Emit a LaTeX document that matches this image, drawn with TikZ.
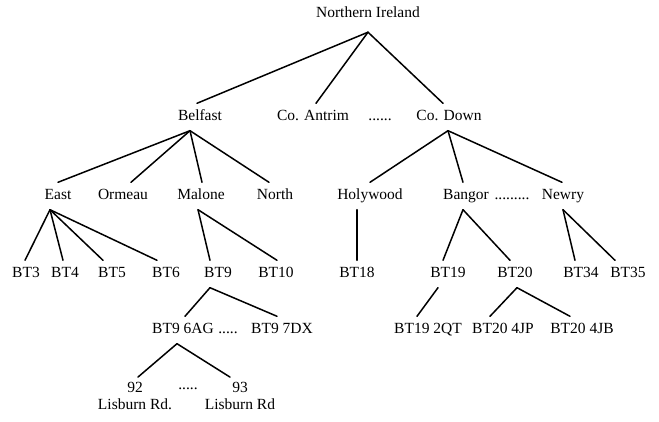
\documentclass[tikz,border=0pt]{standalone}
\usepackage{fontspec}
\setmainfont{Liberation Serif}
\usepackage{tikz}

\begin{document}
\begin{tikzpicture}[x=1pt,y=-1pt,
    place/.style={font=\fontsize{15.5}{17}\selectfont, black, inner sep=0pt,
        minimum height=27pt, text height=10.5pt, text depth=3.5pt},
    addr/.style={font=\fontsize{15.5}{17}\selectfont, black, inner sep=1pt,
        align=center},
    link/.style={black, line width=1.5pt, line cap=round}]
    \useasboundingbox (0,0) rectangle (659,422);

    % level 0 and 1
    \node[place] (ni) at (368,14) {Northern Ireland};
    \node[place] (belfast) at (200,117) {Belfast};
    \node[place] (antrim) at (313,117) {Co. Antrim};
    \node[place] (dotsa) at (380,117) {......};
    \node[place] (down) at (449,117) {Co. Down};

    % level 2
    \node[place] (east) at (58,196) {East};
    \node[place] (ormeau) at (123,196) {Ormeau};
    \node[place] (malone) at (201,196) {Malone};
    \node[place] (north) at (275,196) {North};
    \node[place] (holywood) at (370,196) {Holywood};
    \node[place] (bangor) at (466,196) {Bangor};
    \node[place] (dotsb) at (512,196) {.........};
    \node[place] (newry) at (563,196) {Newry};

    % level 3
    \node[place] (bt3) at (26,274) {BT3};
    \node[place] (bt4) at (65,274) {BT4};
    \node[place] (bt5) at (112,274) {BT5};
    \node[place] (bt6) at (166,274) {BT6};
    \node[place] (bt9) at (218,274) {BT9};
    \node[place] (bt10) at (276,274) {BT10};
    \node[place] (bt18) at (357,274) {BT18};
    \node[place] (bt19) at (448,274) {BT19};
    \node[place] (bt20) at (515,274) {BT20};
    \node[place] (bt34) at (581,274) {BT34};
    \node[place] (bt35) at (628,274) {BT35};

    % level 4 and 5
    \node[place] (bt9a) at (183,330) {BT9 6AG};
    \node[place] (dotsc) at (228,330) {.....};
    \node[place] (bt9b) at (282,330) {BT9 7DX};
    \node[place] (bt19a) at (428,330) {BT19 2QT};
    \node[place] (bt20a) at (503,330) {BT20 4JP};
    \node[place] (bt20b) at (582,330) {BT20 4JB};
    \node[addr] (r92) at (135,396) {92\\Lisburn Rd.};
    \node[place] (dotsd) at (188,386) {.....};
    \node[addr] (r93) at (240,396) {93\\Lisburn Rd};

    \draw[link] ([yshift=-4.5pt]ni.south) -- ([xshift=-3pt]belfast.north);
    \draw[link] ([yshift=-4.5pt]ni.south) -- ([xshift=3pt]antrim.north);
    \draw[link] ([yshift=-4.5pt]ni.south) -- ([xshift=-6pt]down.north);

    \draw[link] ([xshift=-10pt]belfast.south) -- (east.north);
    \draw[link] ([xshift=-10pt]belfast.south) -- ([xshift=8pt]ormeau.north);
    \draw[link] ([xshift=-10pt]belfast.south) -- ([xshift=1pt]malone.north);
    \draw[link] ([xshift=-10pt]belfast.south) -- ([xshift=-6pt]north.north);
    \draw[link] ([xshift=-1pt]down.south) -- (holywood.north);
    \draw[link] ([xshift=-1pt]down.south) -- ([xshift=-3pt]bangor.north);
    \draw[link] ([xshift=-1pt]down.south) -- ([xshift=-1pt]newry.north);

    \draw[link] ([xshift=-8pt]east.south) -- ([xshift=-1pt]bt3.north);
    \draw[link] ([xshift=-8pt]east.south) -- ([xshift=-2pt]bt4.north);
    \draw[link] ([xshift=-8pt]east.south) -- ([xshift=-9pt]bt5.north);
    \draw[link] ([xshift=-8pt]east.south) -- ([xshift=-9pt]bt6.north);
    \draw[link] ([xshift=-3pt]malone.south) -- ([xshift=-8pt]bt9.north);
    \draw[link] ([xshift=-3pt]malone.south) -- ([xshift=1pt]bt10.north);
    \draw[link] ([xshift=-13pt]holywood.south) -- (bt18.north);
    \draw[link] ([xshift=-3pt]bangor.south) -- ([xshift=-5pt]bt19.north);
    \draw[link] ([xshift=-3pt]bangor.south) -- ([xshift=-5pt]bt20.north);
    \draw[link] (newry.south) -- ([xshift=-6pt]bt34.north);
    \draw[link] (newry.south) -- ([xshift=-13pt]bt35.north);

    \draw[link] ([xshift=-8pt]bt9.south) -- ([xshift=2pt]bt9a.north);
    \draw[link] ([xshift=-8pt]bt9.south) -- ([xshift=-5pt]bt9b.north);
    \draw[link] ([xshift=-10pt]bt19.south) -- ([xshift=-11pt]bt19a.north);
    \draw[link] ([xshift=2pt]bt20.south) -- ([xshift=-13pt]bt20a.north);
    \draw[link] ([xshift=2pt]bt20.south) -- ([xshift=-12pt]bt20b.north);
    \draw[link] ([xshift=-6pt]bt9a.south) -- ([xshift=3pt,yshift=4pt]r92.north);
    \draw[link] ([xshift=-6pt]bt9a.south) -- ([xshift=-10pt,yshift=4pt]r93.north);

\end{tikzpicture}
\end{document}
